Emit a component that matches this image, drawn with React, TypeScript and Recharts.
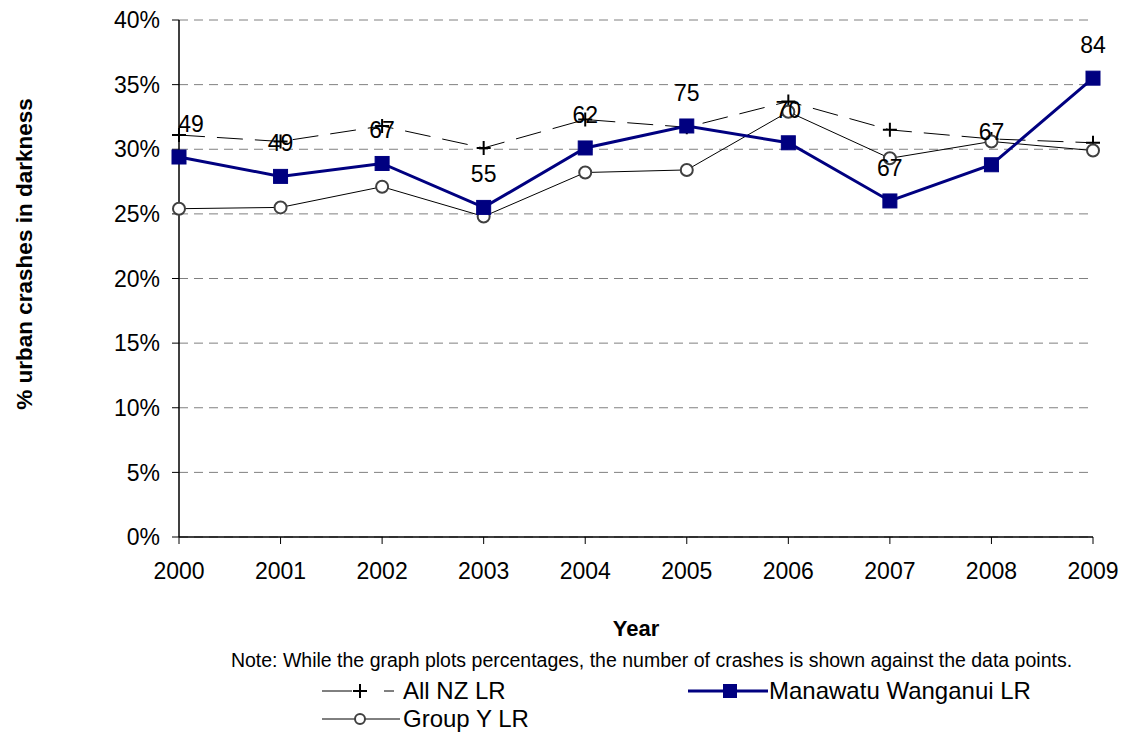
import React from "react";
import {
  LineChart,
  Line,
  XAxis,
  YAxis,
  CartesianGrid,
  Legend,
  LabelList,
  Label,
} from "recharts";

// values (percent of urban crashes in darkness)
const years = ["2000", "2001", "2002", "2003", "2004", "2005", "2006", "2007", "2008", "2009"];
const allNz = [31.1, 30.6, 31.8, 30.1, 32.3, 31.7, 33.7, 31.5, 30.8, 30.5];
const manawatu = [29.4, 27.9, 28.9, 25.5, 30.1, 31.8, 30.5, 26.0, 28.8, 35.5];
const groupY = [25.4, 25.5, 27.1, 24.8, 28.2, 28.4, 32.9, 29.3, 30.6, 29.9];
const crashCounts = [49, 49, 67, 55, 62, 75, 70, 67, 67, 84];
const yTicks = [0, 5, 10, 15, 20, 25, 30, 35, 40];

const seriesNames = { allNz: "All NZ LR", manawatu: "Manawatu Wanganui LR", groupY: "Group Y LR" };
const noteText =
  "Note: While the graph plots percentages, the number of crashes is shown against the data points.";

const data = years.map((year, i) => ({
  year,
  allNz: allNz[i],
  manawatu: manawatu[i],
  groupY: groupY[i],
  count: crashCounts[i],
}));

const FONT = "'Liberation Sans', Arial, sans-serif";
const NAVY = "#000080";

const PlusDot = (props: any) => {
  const { cx, cy } = props;
  if (cx == null || cy == null) return null;
  return <path d={`M${cx - 7},${cy}h14M${cx},${cy - 7}v14`} stroke="#000" strokeWidth={2} fill="none" />;
};

const SquareDot = (props: any) => {
  const { cx, cy } = props;
  if (cx == null || cy == null) return null;
  return <rect x={cx - 7} y={cy - 7} width={14} height={14} fill={NAVY} stroke={NAVY} />;
};

const CircleDot = (props: any) => {
  const { cx, cy } = props;
  if (cx == null || cy == null) return null;
  return <circle cx={cx} cy={cy} r={6} fill="#fff" stroke="#404040" strokeWidth={2} />;
};

const CountLabel = (props: any) => {
  const { x, y, value, index } = props;
  // Excel nudged the first label inside the plot area
  const nx = index === 0 ? x + 12 : x;
  return (
    <text x={nx} y={y - 25} textAnchor="middle" fontSize={23} fontFamily={FONT} fill="#000">
      {value}
    </text>
  );
};

const LegendContent = () => {
  const item = (icon: React.ReactNode, text: string) => (
    <div style={{ display: "flex", alignItems: "center", height: 28 }}>
      <svg width={80} height={20}>
        {icon}
      </svg>
      <span style={{ fontSize: 24, marginLeft: 1, whiteSpace: "nowrap" }}>{text}</span>
    </div>
  );
  return (
    <div style={{ fontFamily: FONT, color: "#000" }}>
      <div style={{ textAlign: "center", fontSize: 19.5, marginLeft: 180, height: 29, lineHeight: "24px", whiteSpace: "nowrap" }}>
        {noteText}
      </div>
      <div style={{ position: "relative", height: 60 }}>
        <div style={{ position: "absolute", left: 322, top: 0 }}>
          {item(
            <g>
              <line x1={0} y1={10} x2={30} y2={10} stroke="#000" strokeWidth={1} />
              <line x1={62} y1={10} x2={72} y2={10} stroke="#000" strokeWidth={1} />
              <path d="M31,10h14M38,3v14" stroke="#000" strokeWidth={2} />
            </g>,
            seriesNames.allNz
          )}
          {item(
            <g>
              <line x1={0} y1={10} x2={78} y2={10} stroke="#000" strokeWidth={1} />
              <circle cx={38} cy={10} r={5} fill="#fff" stroke="#404040" strokeWidth={2} />
            </g>,
            seriesNames.groupY
          )}
        </div>
        <div style={{ position: "absolute", left: 688, top: 0 }}>
          {item(
            <g>
              <line x1={0} y1={10} x2={80} y2={10} stroke={NAVY} strokeWidth={3} />
              <rect x={35} y={3} width={14} height={14} fill={NAVY} />
            </g>,
            seriesNames.manawatu
          )}
        </div>
      </div>
    </div>
  );
};

export default function App() {
  return (
    <div style={{ position: "absolute", left: 0, top: 0, width: 1123, height: 743, background: "#fff" }}>
      <LineChart
        width={1123}
        height={743}
        data={data}
        margin={{ top: 20, right: 30, left: 119, bottom: 166 }}
        style={{ fontFamily: FONT }}
      >
        <CartesianGrid
          horizontal
          vertical={false}
          stroke="#808080"
          strokeDasharray="9 6"
          horizontalValues={yTicks}
        />
        <XAxis
          dataKey="year"
          xAxisId={0}
          height={40}
          tickSize={7}
          tickMargin={19}
          axisLine={{ stroke: "#000", strokeWidth: 1.5 }}
          tickLine={{ stroke: "#000" }}
          tick={{ fill: "#000", fontSize: 23, fontFamily: FONT }}
          interval={0}
        >
          <Label
            content={(p: any) => {
              const vb = p.viewBox || {};
              return (
                <text
                  x={vb.x + vb.width / 2}
                  y={636}
                  textAnchor="middle"
                  fontSize={22}
                  fontWeight="bold"
                  fontFamily={FONT}
                  fill="#000"
                >
                  Year
                </text>
              );
            }}
          />
        </XAxis>
        <XAxis
          xAxisId="top"
          orientation="top"
          dataKey="year"
          height={0}
          tick={false}
          tickLine={false}
          axisLine={{ stroke: "#000" }}
        />
        <YAxis
          yAxisId={0}
          width={60}
          domain={[0, 40]}
          ticks={yTicks}
          tickSize={7}
          tickMargin={12}
          tickFormatter={(v: number) => `${v}%`}
          axisLine={{ stroke: "#000", strokeWidth: 1.5 }}
          tickLine={{ stroke: "#000" }}
          tick={{ fill: "#000", fontSize: 23, fontFamily: FONT }}
        >
          <Label
            content={() => (
              <text
                transform="translate(32,254) rotate(-90)"
                textAnchor="middle"
                fontSize={22.5}
                fontWeight="bold"
                fontFamily={FONT}
                fill="#000"
              >
                % urban crashes in darkness
              </text>
            )}
          />
        </YAxis>
        <YAxis
          yAxisId="right"
          orientation="right"
          width={0}
          domain={[0, 40]}
          tick={false}
          tickLine={false}
          axisLine={{ stroke: "#000" }}
        />
        <Legend
          layout="horizontal"
          verticalAlign="middle"
          align="center"
          wrapperStyle={{ left: 0, top: 648, width: 1123, height: 95 }}
          content={<LegendContent />}
        />
        <Line
          type="linear"
          dataKey="allNz"
          name={seriesNames.allNz}
          stroke="#000"
          strokeWidth={1}
          strokeDasharray="26 12"
          dot={<PlusDot />}
          activeDot={false}
          isAnimationActive={false}
        />
        <Line
          type="linear"
          dataKey="groupY"
          name={seriesNames.groupY}
          stroke="#000"
          strokeWidth={1}
          dot={<CircleDot />}
          activeDot={false}
          isAnimationActive={false}
        />
        <Line
          type="linear"
          dataKey="manawatu"
          name={seriesNames.manawatu}
          stroke={NAVY}
          strokeWidth={3}
          dot={<SquareDot />}
          activeDot={false}
          isAnimationActive={false}
        >
          <LabelList dataKey="count" content={<CountLabel />} />
        </Line>
      </LineChart>
    </div>
  );
}
